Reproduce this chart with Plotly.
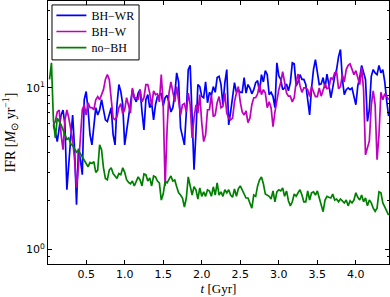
import plotly.graph_objects as go

# time grid (Gyr), sampled every 0.025 Gyr
t = [round(0.025 * (i + 1), 3) for i in range(177)]

bh_wr = [None, None, 5.9, 5.35, 4.65, 5.65, 6.8, 7.3, 5.9, 2.34,
         3.6, 4.9, 6.8, 4.15, 1.89, 4.2, 3.6, 2.9, 8.46, 9.5,
         7.33, 5.13, 4.44, 6.1, 7.55, 6.8, 7.3, 8.46, 7.3, 6.35,
         6.2, 7.0, 7.55, 5.13, 4.44, 7.87, 10.5, 9.5, 7.87, 4.44,
         5.5, 6.8, 8.46, 9.76, 8.7, 8.2, 9.3, 9.76, 7.1, 5.5,
         8.46, 9.1, 7.55, 8.1, 6.35, 7.87, 8.85, 9.0, 9.3, 7.75,
         8.7, 9.0, 8.1, 7.1, 7.55, 9.1, 12.4, 10.9, 5.65, 4.9,
         4.44, 7.1, 13.0, 13.8, 7.33, 3.11, 5.3, 10.5, 10.2, 8.85,
         8.7, 10.9, 8.1, 9.4, 9.0, 10.2, 9.4, 11.6, 11.8, 10.5,
         7.87, 10.8, 13.0, 5.9, 7.1, 9.1, 10.8, 9.4, 9.76, 9.4,
         9.4, 11.6, 9.3, 10.5, 10.0, 9.2, 9.76, 10.8, 11.1, 9.4,
         12.1, 10.9, 12.8, 12.1, 9.1, 9.4, 8.85, 7.55, 14.3, 11.9,
         11.3, 9.76, 10.0, 10.6, 9.6, 10.8, 14.3, 14.1, 10.3, 10.9,
         12.1, 11.3, 11.3, 10.5, 8.1, 6.8, 10.0, 13.0, 15.0, 12.4,
         10.5, 10.6, 11.6, 10.0, 12.2, 10.5, 8.7, 10.0, 11.8, 13.0,
         15.6, 17.3, 11.3, 9.1, 9.76, 10.0, 9.76, 10.0, 9.0, 7.87,
         10.3, 11.6, 13.8, 12.6, 11.3, 6.2, 7.33, 11.8, 13.0, 12.4,
         12.1, 13.8, 12.4, 13.0, 10.9, 8.3, 6.7]

bh_w = [None, None, 5.9, 6.2, 7.1, 7.3, 5.13, 4.15, 6.35, 7.3,
        6.5, 5.65, 4.77, 3.59, 2.4, 3.25, 5.13, 7.33, 7.87, 6.8,
        8.1, 7.55, 7.55, 7.33, 8.46, 8.85, 8.46, 9.1, 9.76, 11.3,
        12.1, 11.3, 8.7, 6.5, 6.35, 6.65, 7.55, 8.0, 6.9, 7.33,
        8.7, 7.87, 7.0, 10.0, 8.7, 8.7, 8.46, 9.76, 8.2, 8.7,
        10.5, 10.5, 9.3, 7.75, 9.6, 9.1, 9.2, 8.2, 12.1, 7.87,
        2.47, 5.51, 9.3, 10.9, 9.3, 8.2, 10.2, 8.2, 6.8, 7.87,
        8.0, 7.1, 9.3, 7.87, 4.9, 6.5, 7.87, 7.0, 9.1, 6.1,
        4.65, 5.13, 7.33, 7.33, 9.1, 6.65, 6.8, 8.1, 8.85, 7.55,
        7.7, 9.3, 7.0, 6.5, 6.35, 6.5, 8.2, 9.3, 10.2, 8.2,
        7.1, 6.8, 7.2, 6.1, 6.5, 7.87, 8.7, 8.7, 9.2, 10.6,
        9.1, 9.76, 9.3, 7.55, 8.2, 7.55, 5.75, 7.1, 8.6, 9.76,
        10.8, 12.6, 10.9, 9.3, 8.9, 8.9, 8.2, 8.7, 10.9, 12.2,
        10.3, 9.4, 10.0, 10.0, 9.76, 8.85, 10.2, 9.4, 8.85, 8.85,
        10.0, 8.9, 9.9, 10.6, 9.9, 10.0, 11.6, 11.3, 12.4, 12.6,
        9.9, 10.2, 12.1, 10.9, 13.0, 13.8, 14.1, 13.0, 12.1, 12.8,
        11.6, 10.5, 13.4, 9.76, 3.85, 4.25, 4.7, 7.8, 9.6, 7.87,
        3.59, 5.13, 9.4, 8.46, 9.2, 8.85, 8.46]

no_bh = [11.3, 14.3, 6.35, 4.9, 6.5, 6.2, 5.9, 5.5, 5.1, 4.8,
         4.9, 4.5, 4.4, 4.2, 4.0, 4.1, 3.9, 3.75, 3.55, 3.35,
         3.25, 3.45, 3.4, 3.5, 3.0, 3.1, 4.45, 4.15, 3.2, 2.75,
         2.7, 3.1, 3.2, 2.95, 2.85, 2.75, 2.95, 2.9, 3.2, 3.0,
         2.7, 2.6, 2.55, 2.65, 2.47, 2.62, 2.81, 2.69, 2.47, 2.93,
         2.9, 2.65, 2.77, 2.47, 2.85, 2.81, 2.65, 2.58, 2.02, 2.2,
         2.65, 2.58, 2.69, 2.85, 2.65, 2.69, 2.44, 2.24, 2.17, 2.08,
         1.83, 2.08, 2.81, 2.4, 2.17, 2.44, 2.34, 2.05, 2.4, 2.13,
         2.27, 2.13, 2.34, 2.3, 2.13, 2.44, 2.17, 2.58, 2.17, 2.27,
         2.13, 2.34, 2.24, 2.34, 2.17, 2.1, 2.37, 2.13, 2.37, 2.47,
         2.34, 2.24, 2.08, 2.08, 1.91, 1.8, 2.17, 2.13, 2.47, 2.69,
         2.81, 2.55, 2.2, 2.17, 2.13, 2.05, 2.3, 1.97, 2.27, 2.34,
         2.3, 2.4, 2.13, 2.3, 2.0, 1.86, 1.97, 2.2, 2.13, 2.24,
         2.34, 2.17, 1.97, 1.97, 2.3, 2.02, 2.24, 2.27, 2.17, 2.3,
         2.08, 1.83, 1.71, 2.02, 2.13, 2.1, 2.08, 2.2, 2.02, 2.05,
         1.97, 2.05, 2.0, 1.94, 2.02, 1.86, 2.0, 1.94, 2.02, 2.24,
         2.1, 2.02, 2.17, 1.97, 2.08, 1.86, 2.02, 1.94, 1.8, 1.72,
         1.8, 2.27, 2.24, 1.94, 1.83, 1.72, 1.63]

x_ticks = [0.5, 1.0, 1.5, 2.0, 2.5, 3.0, 3.5, 4.0]
y_ticks = [1, 10]
y_tick_text = ["10<sup>0</sup>", "10<sup>1</sup>"]
y_minor = [0.9, 2, 3, 4, 5, 6, 7, 8, 9, 20, 30]

series = [("BH\u2212WR", bh_wr, "#0000ff", "legend"),
          ("BH\u2212W", bh_w, "#bf00bf", "legend2"),
          ("no\u2212BH", no_bh, "#008000", "legend3")]

fig = go.Figure()
for name, vals, col, leg in series:
    fig.add_trace(go.Scatter(x=t, y=vals, mode="lines", name=name,
                             legend=leg,
                             line=dict(color=col, width=1.7)))

serif = "Liberation Serif"
sans = "DejaVu Sans"

def leg_style(ypos):
    return dict(x=0.01, y=ypos, xanchor="left", yanchor="middle",
                bgcolor="rgba(0,0,0,0)", borderwidth=0,
                font=dict(family=serif, size=12, color="black"),
                itemwidth=30, tracegroupgap=0)

fig.update_layout(
    width=390, height=297,
    margin=dict(l=48, r=1, t=1, b=33),
    paper_bgcolor="white", plot_bgcolor="white",
    showlegend=True,
    legend=leg_style(0.945),
    legend2=leg_style(0.884),
    legend3=leg_style(0.823),
    shapes=[dict(type="rect", xref="paper", yref="paper",
                 x0=0.0117, x1=0.267, y0=0.776, y1=0.985,
                 fillcolor="white", line=dict(color="black", width=1),
                 layer="above")],
)
fig.update_xaxes(range=[0.005, 4.43], tickvals=x_ticks, tickformat=".1f",
                 ticks="inside", ticklen=4, tickcolor="black",
                 showline=True, linecolor="black", linewidth=1,
                 mirror="ticks", showgrid=False, zeroline=False,
                 automargin=False,
                 tickfont=dict(family=sans, size=11, color="black"),
                 title=dict(text="<i>t</i> [Gyr]", standoff=3,
                            font=dict(family=serif, size=13, color="black")))
fig.update_yaxes(type="log", range=[-0.091, 1.539],
                 tickvals=y_ticks, ticktext=y_tick_text,
                 ticks="inside", ticklen=4, tickcolor="black",
                 minor=dict(tickvals=y_minor, ticks="inside", ticklen=2,
                            tickcolor="black", showgrid=False),
                 showline=True, linecolor="black", linewidth=1,
                 mirror="ticks", showgrid=False, zeroline=False,
                 automargin=False,
                 tickfont=dict(family=sans, size=11, color="black"),
                 title=dict(text="IFR [<i>M</i><sub>\u2299</sub> yr<sup>\u22121</sup>]",
                            standoff=10,
                            font=dict(family=serif, size=14, color="black")))

fig.write_html("out.html",
               config={"displayModeBar": False},
               post_script="document.body.style.margin='0';"
                           "document.body.style.overflow='hidden';")
